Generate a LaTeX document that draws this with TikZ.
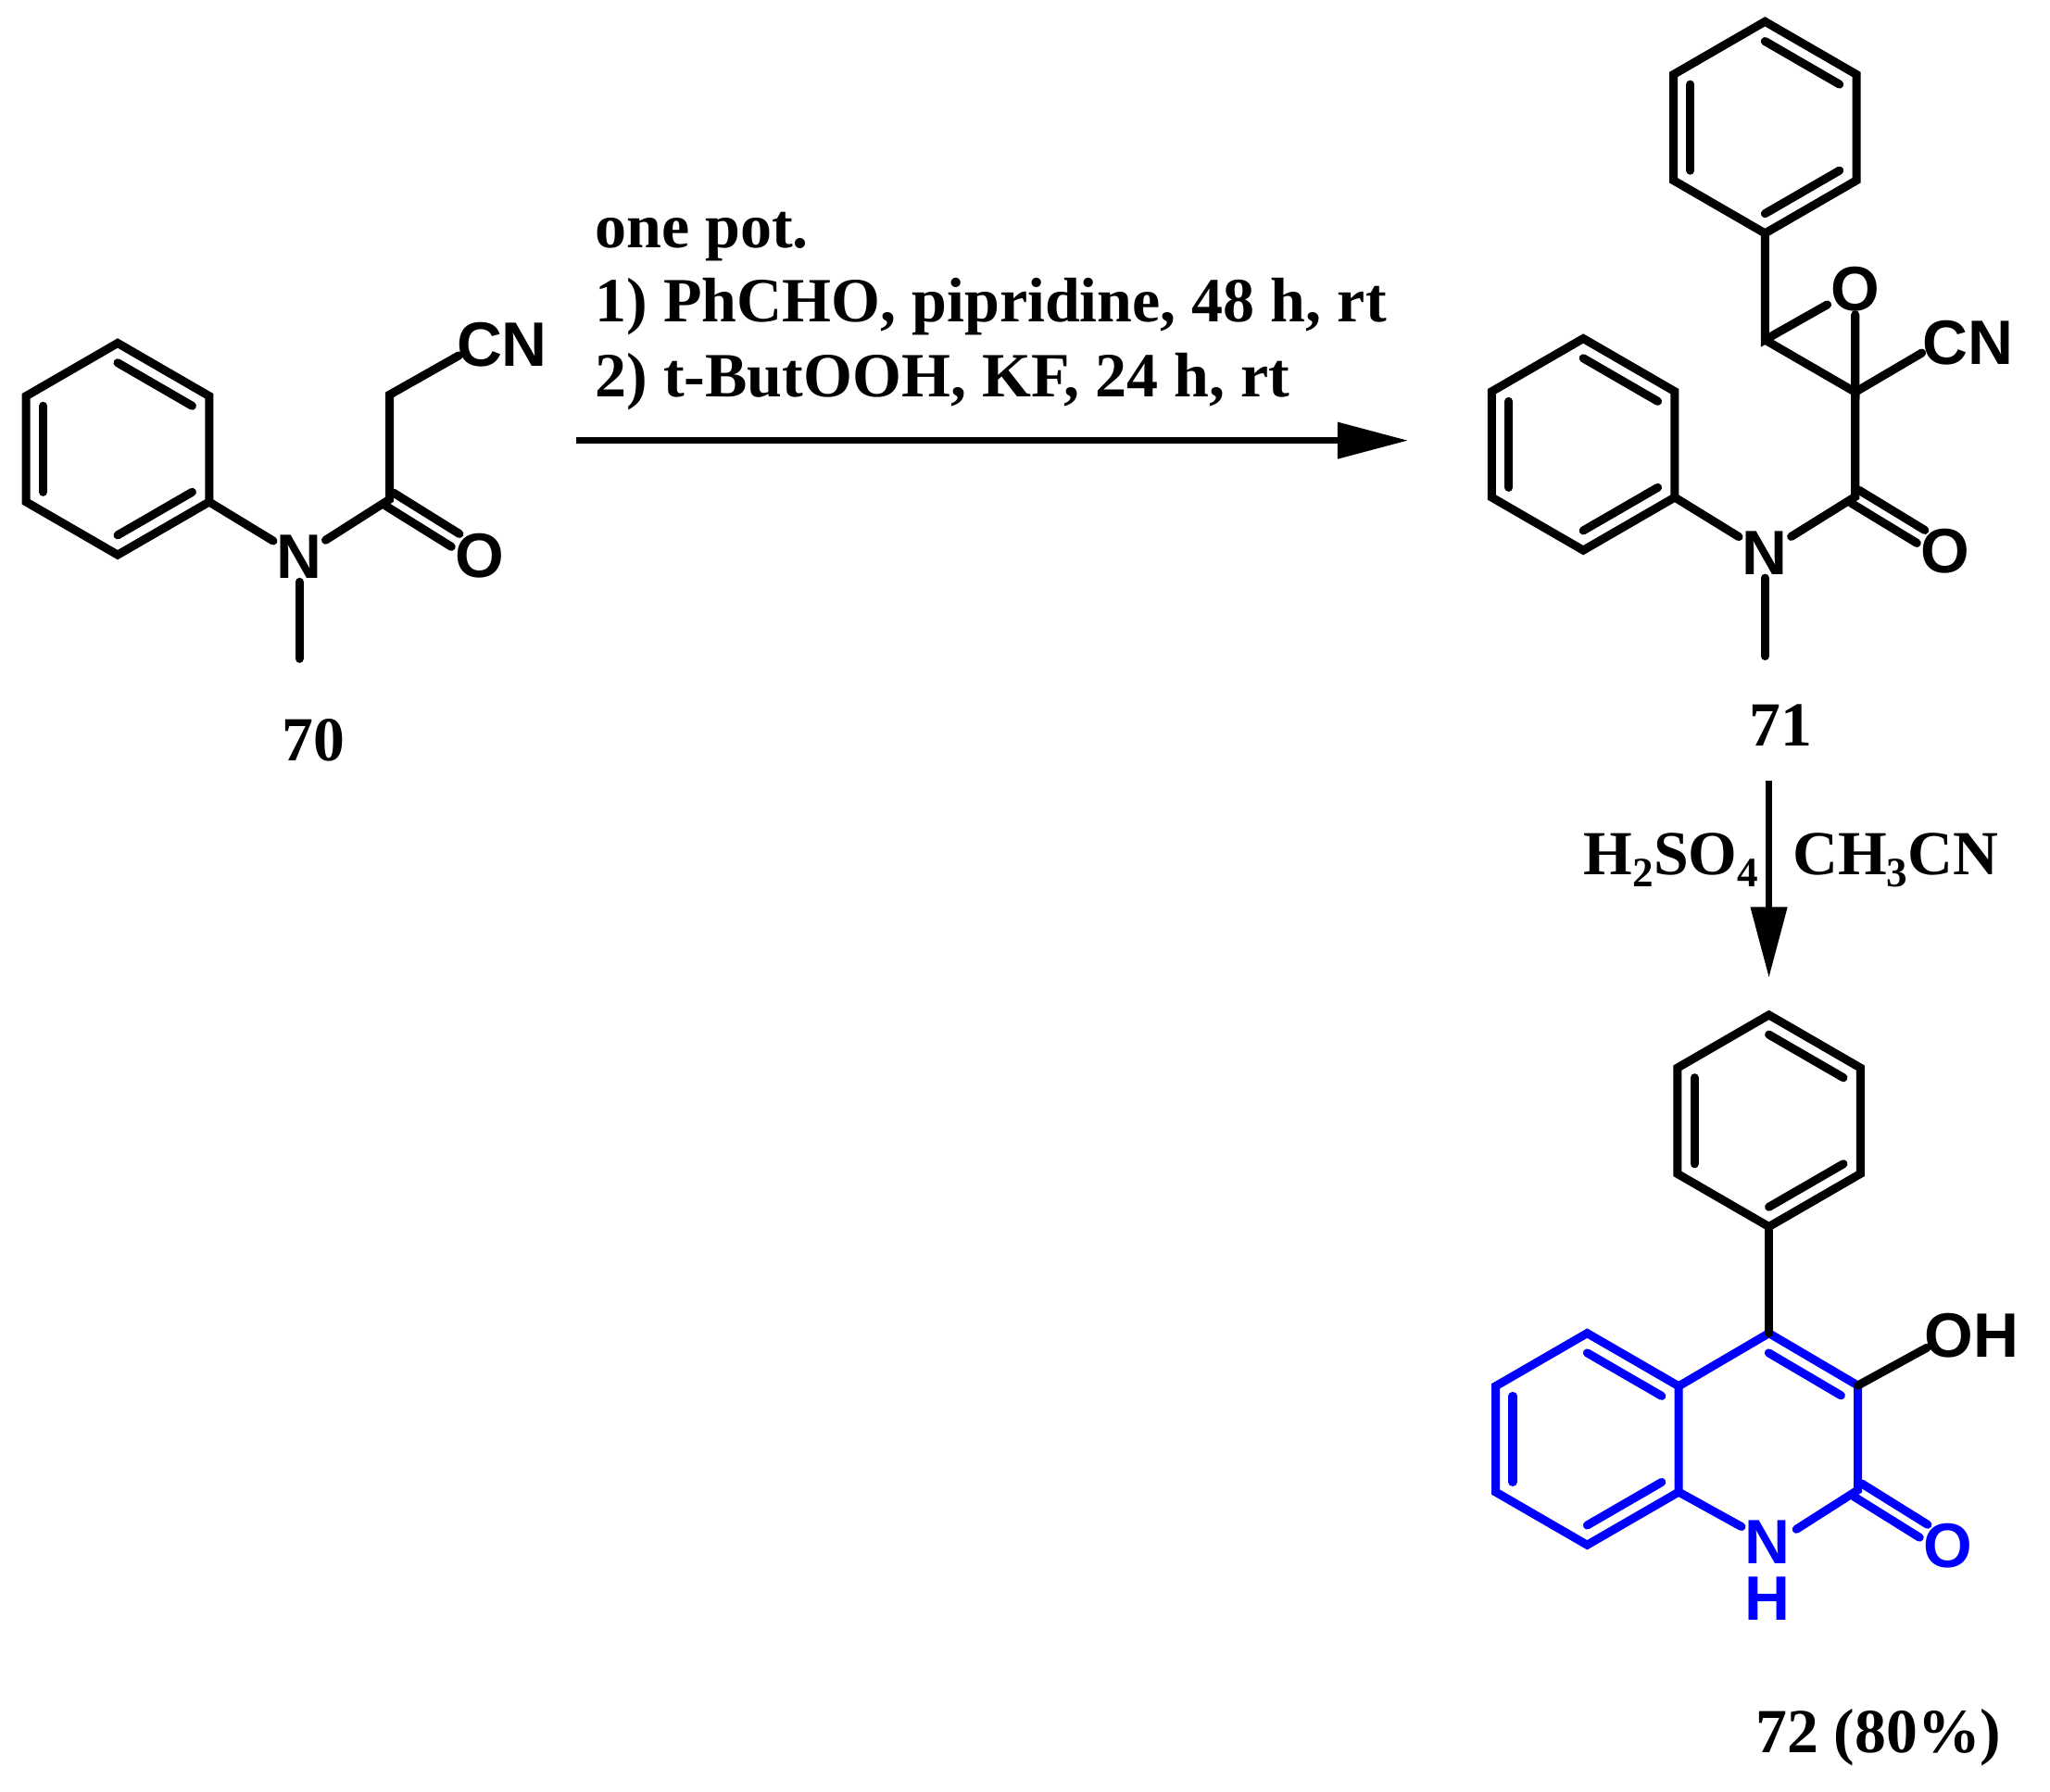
\documentclass[tikz,border=0pt]{standalone}
\usepackage{fontspec}
\setmainfont{Liberation Serif}
\newfontfamily\atomfont{Liberation Sans}
\usetikzlibrary{calc,arrows.meta}
\definecolor{prodblue}{RGB}{0,0,255}
\newcommand{\sbs}[1]{\raisebox{-.2em}{\fontsize{32}{32}\selectfont #1}}
% six ring vertices: prefix, centre x, centre y
\newcommand{\ringat}[3]{%
  \coordinate (#1c) at (#2,#3);
  \coordinate (#1a) at (#2,#3-81);
  \coordinate (#1b) at (#2+70,#3-40.5);
  \coordinate (#1d) at (#2+70,#3+40.5);
  \coordinate (#1e) at (#2,#3+81);
  \coordinate (#1f) at (#2-70,#3+40.5);
  \coordinate (#1g) at (#2-70,#3-40.5);
}
\newcommand{\ringdraw}[2][]{%
  \draw[bond,#1] (#2a) -- (#2b) -- (#2d) -- (#2e) -- (#2f) -- (#2g) -- cycle;
  \draw[bond,#1] ($(#2a)!.186!(#2c)$) -- ($(#2b)!.186!(#2c)$);
  \draw[bond,#1] ($(#2d)!.186!(#2c)$) -- ($(#2e)!.186!(#2c)$);
  \draw[bond,#1] ($(#2f)!.186!(#2c)$) -- ($(#2g)!.186!(#2c)$);
}
\newcommand{\carbonyl}[3][]{%
  \draw[bond,#1,shorten >=22pt] ($(#2)!5.8pt!90:(#3)$) -- ($(#3)!5.8pt!-90:(#2)$);
  \draw[bond,#1,shorten >=22pt] ($(#2)!5.8pt!-90:(#3)$) -- ($(#3)!5.8pt!90:(#2)$);
}
\tikzset{
  x=1pt,y=-1pt,
  bond/.style={line width=6.4pt,line cap=round,line join=miter,draw=black},
  bluebond/.style={bond,draw=prodblue},
  atom/.style={inner sep=2.5pt,font=\atomfont\bfseries\fontsize{48}{48}\selectfont},
  cmpd/.style={inner sep=0pt,font=\bfseries\fontsize{48}{48}\selectfont},
  rxntext/.style={inner sep=0pt,align=left,font=\bfseries\fontsize{48.2}{57}\selectfont},
  rxnarrow/.style={line width=5pt,-{Triangle[length=54pt,width=27pt]}},
}
\begin{document}
\begin{tikzpicture}
\useasboundingbox (0,0) rectangle (1568,1371);
% --- compound 70 ---
\ringat{A}{90}{343.5}
\ringdraw{A}
\node[atom] (N70) at (229,426) {N};
\coordinate (Me70) at (229,504);
\coordinate (CO70) at (298,382);
\coordinate (CH70) at (298,302);
\node[atom] (CN70) at (384,264) {CN};
\coordinate (CN70b) at (351,272);
\node[atom] (O70) at (367,425) {O};
\draw[bond] (Ad) -- (N70);
\draw[bond] (N70) -- (CO70) -- (CH70) -- (CN70b);
\draw[bond] (N70) -- (Me70);
\carbonyl{CO70}{O70}
\node[cmpd] (L70) at (240,566) {70};
% --- reaction 1 ---
\node[rxntext,anchor=north west] (R1) at (455,162) {one pot.\\1) PhCHO, pipridine, 48 h, rt\\2) t-ButOOH, KF, 24 h, rt};
\coordinate (A1s) at (441,337);
\coordinate (A1e) at (1077,337);
\draw[rxnarrow] (A1s) -- (A1e);
% --- compound 71 ---
\ringat{B}{1350}{97.5}
\ringdraw{B}
\ringat{C}{1211}{340}
\ringdraw{C}
\coordinate (Ep1) at (1350,260);
\coordinate (Ep2) at (1419,300);
\coordinate (CO71) at (1419,380);
\coordinate (Me71) at (1350,502);
\node[atom] (O71e) at (1419,221) {O};
\node[atom] (CN71) at (1505,262) {CN};
\coordinate (CN71b) at (1470,270);
\node[atom] (O71) at (1488,422) {O};
\node[atom] (N71) at (1350,423) {N};
\draw[bond] (Be) -- (Ep1) -- (O71e);
\draw[bond] (Ep1) -- (Ep2) -- (O71e);
\draw[bond] (Ep2) -- (CN71b);
\draw[bond] (Ep2) -- (CO71) -- (N71) -- (Cd);
\draw[bond] (N71) -- (Me71);
\carbonyl{CO71}{O71}
\node[cmpd] (L71) at (1362,555) {71};
% --- reaction 2 ---
\coordinate (A2s) at (1353,597);
\coordinate (A2e) at (1353,748);
\draw[rxnarrow] (A2s) -- (A2e);
\node[cmpd,anchor=base east] (R2a) at (1345,669) {H\sbs{2}SO\sbs{4}};
\node[cmpd,anchor=base west] (R2b) at (1371,669) {CH\sbs{3}CN};
% --- compound 72 ---
\ringat{D}{1353}{857.5}
\ringdraw{D}
\ringat{E}{1214}{1101}
\ringdraw[draw=prodblue]{E}
\coordinate (C4) at (1353,1020);
\coordinate (C3) at (1421,1060);
\coordinate (C2) at (1421,1140);
\coordinate (C7c) at (1352,1101);
\node[atom,text=prodblue,align=center,inner sep=0pt,anchor=north,font=\atomfont\bfseries\fontsize{48}{43}\selectfont] (N72) at (1352,1163) {N\\H};
\coordinate (N72l) at (1332,1168);
\coordinate (N72r) at (1374,1170);
\node[atom,text=prodblue] (O72) at (1490,1183) {O};
\node[atom] (OH72) at (1508,1022) {OH};
\coordinate (OH72b) at (1474,1031);
\draw[bluebond] (Eb) -- (C4) -- (C3) -- (C2) -- (N72r);
\draw[bluebond] (N72l) -- (Ed);
\draw[bluebond] ($(C4)!.186!(C7c)$) -- ($(C3)!.186!(C7c)$);
\carbonyl[draw=prodblue]{C2}{O72}
\draw[bond] (De) -- (C4);
\draw[bond] (C3) -- (OH72b);
\node[cmpd,anchor=base east] (L72) at (1531,1341) {72 (80\%)};
\end{tikzpicture}
\end{document}
